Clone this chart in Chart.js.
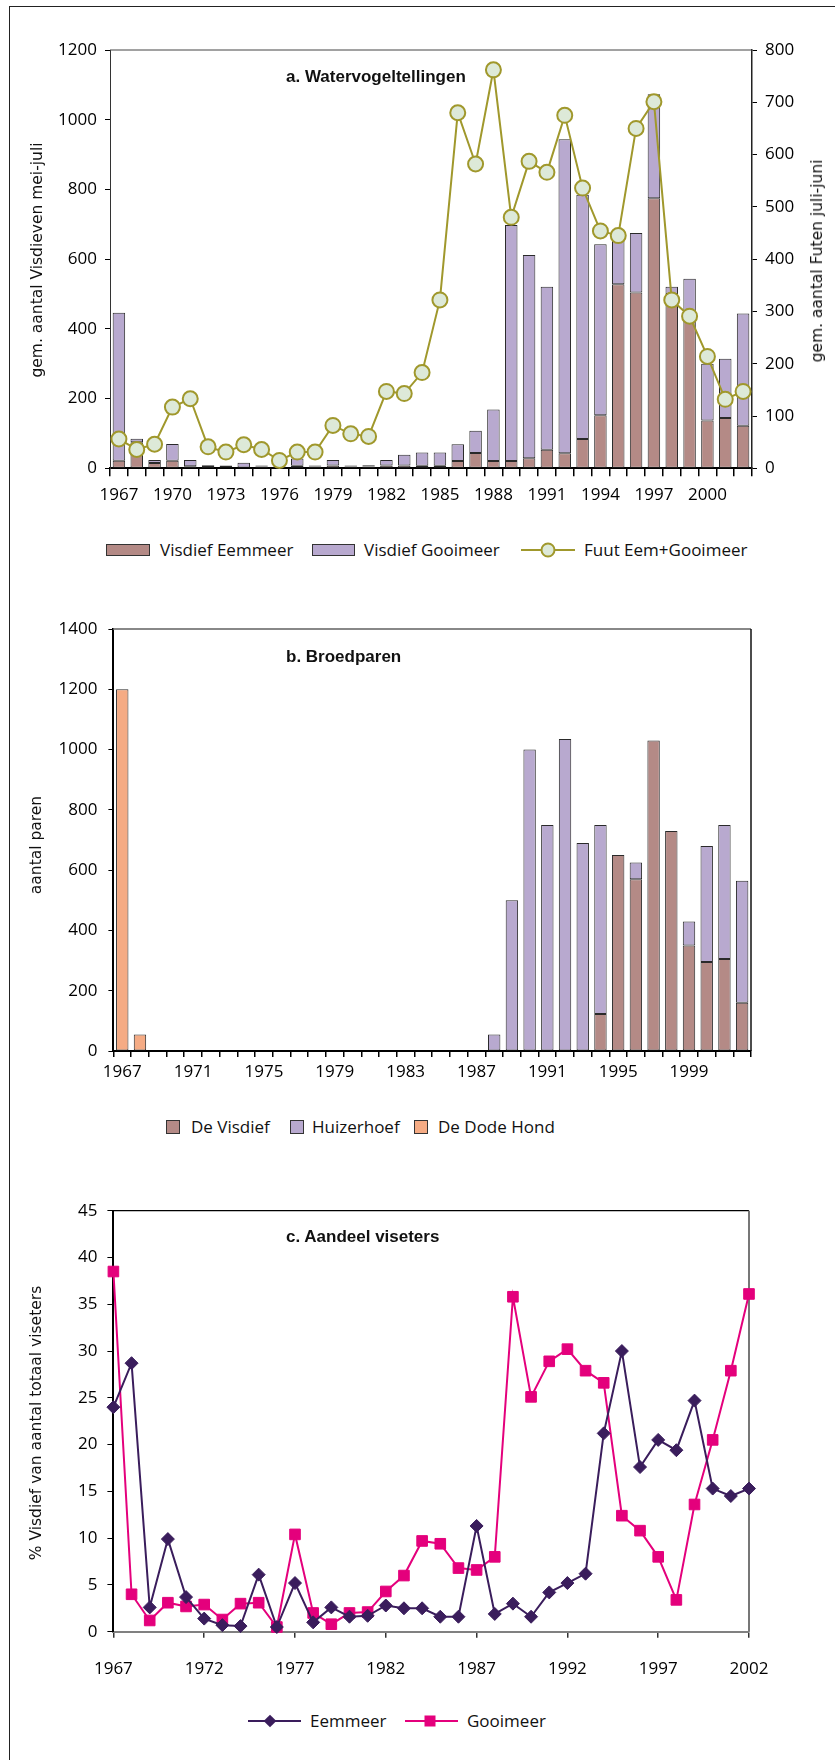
<!DOCTYPE html>
<html>
<head>
<meta charset="utf-8">
<script src="https://cdn.jsdelivr.net/npm/chart.js@4.4.1/dist/chart.umd.min.js"></script>
<style>
  html, body { margin: 0; padding: 0; background: #fff; }
  body { width: 835px; height: 1760px; position: relative; overflow: hidden; font-family: 'Open Sans', sans-serif; color: #111; }
  canvas { position: absolute; left: 0; }
  .frame { position: absolute; left: 9px; top: 6px; width: 830px; height: 1760px; border-left: 1.5px solid #222; border-top: 1.5px solid #222; }
  .t { position: absolute; white-space: nowrap; }
  .title { font-family: 'Liberation Sans', Arial, sans-serif; font-weight: bold; font-size: 17px; line-height: 20px; transform: translateY(-50%); }
  .ytitle { font-family: 'DejaVu Sans', sans-serif; font-size: 15.5px; line-height: 18px; transform: translate(-50%, -50%) rotate(-90deg); }
  .leg { font-size: 17px; line-height: 24px; transform: translateY(-50%); }
  .box { position: absolute; box-sizing: border-box; border: 1px solid #333; transform: translateY(-50%); }
  .ln { position: absolute; height: 2px; transform: translateY(-50%); }
  .mk { position: absolute; box-sizing: border-box; transform: translate(-50%, -50%); }
</style>
</head>
<body>
<div class="frame"></div>

<canvas id="chartA" width="835" height="520" style="top:0px"></canvas>
<canvas id="chartB" width="835" height="520" style="top:580px"></canvas>
<canvas id="chartC" width="835" height="540" style="top:1150px"></canvas>

<!-- panel a texts -->
<div class="t title" style="left:286px; top:77px;">a. Watervogeltellingen</div>
<div class="t ytitle" style="left:37px; top:260px;">gem. aantal Visdieven mei-juli</div>
<div class="t ytitle" style="left:817px; top:261px;">gem. aantal Futen juli-juni</div>
<div class="box" style="left:106px; top:550px; width:44px; height:12px; background:#b48a86;"></div>
<div class="t leg" style="left:160px; top:550px;">Visdief Eemmeer</div>
<div class="box" style="left:312px; top:550px; width:43px; height:12px; background:#b8a9cf;"></div>
<div class="t leg" style="left:364px; top:550px;">Visdief Gooimeer</div>
<div class="ln" style="left:521px; top:550px; width:54px; background:#a0982c;"></div>
<div class="mk" style="left:548px; top:550px; width:15px; height:15px; border-radius:50%; background:#dde9d8; border:2px solid #a0982c;"></div>
<div class="t leg" style="left:584px; top:550px;">Fuut Eem+Gooimeer</div>

<!-- panel b texts -->
<div class="t title" style="left:286px; top:657px;">b. Broedparen</div>
<div class="t ytitle" style="left:36px; top:845px;">aantal paren</div>
<div class="box" style="left:166px; top:1127px; width:14px; height:14px; background:#b48a86;"></div>
<div class="t leg" style="left:191px; top:1127px;">De Visdief</div>
<div class="box" style="left:290px; top:1127px; width:14px; height:14px; background:#b8a9cf;"></div>
<div class="t leg" style="left:312px; top:1127px;">Huizerhoef</div>
<div class="box" style="left:414px; top:1127px; width:14px; height:14px; background:#f5ab84;"></div>
<div class="t leg" style="left:438px; top:1127px;">De Dode Hond</div>

<!-- panel c texts -->
<div class="t title" style="left:286px; top:1237px;">c. Aandeel viseters</div>
<div class="t ytitle" style="left:36px; top:1423px;">% Visdief van aantal totaal viseters</div>
<div class="ln" style="left:248px; top:1721px; width:53px; background:#3a1d5c;"></div>
<div class="mk" style="left:270px; top:1721px; width:9px; height:9px; background:#3a1d5c; transform:translate(-50%,-50%) rotate(45deg);"></div>
<div class="t leg" style="left:310px; top:1721px;">Eemmeer</div>
<div class="ln" style="left:405px; top:1721px; width:53px; background:#e4007c;"></div>
<div class="mk" style="left:430px; top:1721px; width:11px; height:11px; background:#e4007c;"></div>
<div class="t leg" style="left:467px; top:1721px;">Gooimeer</div>

<script>
// Years 1967-2002
const years = [1967, 1968, 1969, 1970, 1971, 1972, 1973, 1974, 1975, 1976, 1977, 1978,
               1979, 1980, 1981, 1982, 1983, 1984, 1985, 1986, 1987, 1988, 1989, 1990,
               1991, 1992, 1993, 1994, 1995, 1996, 1997, 1998, 1999, 2000, 2001, 2002];

// a. Watervogeltellingen: mean counts of common terns (May-July) and grebes (July-June)
const visdiefEemmeer = [22, 75, 15, 22, 6, 4, 3, 2, 5, 4, 7, 5,
                        8, 5, 5, 8, 8, 7, 7, 21, 44, 21, 21, 29,
                        53, 43, 84, 152, 528, 504, 775, 500, 440, 137, 144, 122];
const visdiefGooimeer = [424, 10, 9, 48, 18, 5, 5, 14, 3, 1, 21, 3,
                         16, 3, 4, 16, 31, 38, 38, 48, 64, 148, 677, 583,
                         468, 901, 701, 491, 127, 171, 298, 21, 104, 163, 170, 322];
const fuutEemGooimeer = [56, 36, 46, 117, 133, 41, 31, 45, 36, 15, 31, 31,
                         82, 66, 61, 147, 143, 183, 322, 680, 582, 762, 480, 587,
                         566, 675, 536, 454, 445, 650, 701, 322, 291, 214, 132, 147];
const tickLabelsA = ['1967', '1970', '1973', '1976', '1979', '1982', '1985', '1988', '1991', '1994', '1997', '2000'];

// b. Broedparen: breeding pairs per colony
const deVisdief = [null, null, null, null, null, null, null, null, null, null, null, null,
                   null, null, null, null, null, null, null, null, null, null, null, null,
                   null, null, null, 123, 650, 570, 1030, 730, 350, 295, 305, 160];
const huizerhoef = [null, null, null, null, null, null, null, null, null, null, null, null,
                    null, null, null, null, null, null, null, null, null, 55, 500, 1000,
                    750, 1035, 690, 627, null, 55, null, null, 80, 385, 445, 405];
const deDodeHond = [1200, 55, null, null, null, null, null, null, null, null, null, null,
                    null, null, null, null, null, null, null, null, null, null, null, null,
                    null, null, null, null, null, null, null, null, null, null, null, null];
const tickLabelsB = ['1967', '1971', '1975', '1979', '1983', '1987', '1991', '1995', '1999'];

// c. Aandeel viseters: tern share of all fish-eating birds (%)
const aandeelEemmeer = [24.0, 28.7, 2.6, 9.9, 3.7, 1.4, 0.7, 0.6, 6.1, 0.5, 5.2, 1.0,
                        2.6, 1.6, 1.7, 2.8, 2.5, 2.5, 1.6, 1.6, 11.3, 1.9, 3.0, 1.6,
                        4.2, 5.2, 6.2, 21.2, 30.0, 17.6, 20.5, 19.4, 24.7, 15.3, 14.5, 15.3];
const aandeelGooimeer = [38.5, 4.0, 1.2, 3.1, 2.7, 2.9, 1.3, 3.0, 3.1, 0.5, 10.4, 2.0,
                         0.8, 2.0, 2.1, 4.3, 6.0, 9.7, 9.4, 6.8, 6.6, 8.0, 35.8, 25.1,
                         28.9, 30.2, 27.9, 26.6, 12.4, 10.8, 8.0, 3.4, 13.6, 20.5, 27.9, 36.1];
const tickLabelsC = [1967, 1972, 1977, 1982, 1987, 1992, 1997, 2002];

const BROWN = '#b48a86', PURPLE = '#b8a9cf', ORANGE = '#f5ab84';
const OLIVE = '#a0982c', GREY_GREEN = '#dde9d8';
const DARK = '#3a1d5c', MAGENTA = '#e4007c';
const tickFont = { family: "'Open Sans', sans-serif", size: 17 };
const plainNumber = v => String(v);

// Plot-area edge lines that are not axes (top / right frame)
const frameLines = {
  id: 'frameLines',
  beforeDatasetsDraw(chart, args, opts) {
    const { ctx, chartArea: a } = chart;
    ctx.save();
    (opts.lines || []).forEach(l => {
      ctx.beginPath();
      ctx.strokeStyle = l.color;
      ctx.lineWidth = l.width;
      if (l.side === 'top') { ctx.moveTo(a.left, a.top); ctx.lineTo(a.right, a.top); }
      if (l.side === 'right') { ctx.moveTo(a.right, a.top); ctx.lineTo(a.right, a.bottom); }
      ctx.stroke();
    });
    ctx.restore();
  }
};
Chart.register(frameLines);

const barStyle = { borderColor: '#2a2a2a', borderWidth: 1, borderSkipped: false,
                   categoryPercentage: 1, barPercentage: 0.7 };
const baseOpts = { responsive: false, animation: false, events: [], devicePixelRatio: 1 };

// ---- a. Watervogeltellingen
new Chart(document.getElementById('chartA'), {
  type: 'bar',
  data: {
    labels: years.map(String),
    datasets: [
      { type: 'line', label: 'Fuut Eem+Gooimeer', data: fuutEemGooimeer, yAxisID: 'y2',
        borderColor: OLIVE, borderWidth: 2, tension: 0, order: 0, clip: false,
        pointRadius: 7.5, pointBackgroundColor: GREY_GREEN, pointBorderColor: OLIVE, pointBorderWidth: 2 },
      Object.assign({ label: 'Visdief Eemmeer', data: visdiefEemmeer, backgroundColor: BROWN,
        stack: 'v', order: 1 }, barStyle),
      Object.assign({ label: 'Visdief Gooimeer', data: visdiefGooimeer, backgroundColor: PURPLE,
        stack: 'v', order: 1 }, barStyle)
    ]
  },
  options: Object.assign({}, baseOpts, {
    layout: { padding: { top: 50, left: 0, right: 0, bottom: 0 } },
    plugins: { legend: { display: false }, tooltip: { enabled: false },
      frameLines: { lines: [{ side: 'top', color: '#444', width: 1 }] } },
    scales: {
      x: { stacked: true, offset: true,
        grid: { offset: true, drawOnChartArea: false, tickLength: 8, color: '#000', lineWidth: 1.5 },
        border: { color: '#000', width: 2 },
        ticks: { autoSkip: false, maxRotation: 0, padding: 8.5, font: tickFont, color: '#000',
          callback(v) { const l = this.getLabelForValue(v); return tickLabelsA.includes(l) ? l : ''; } },
        afterFit(s) { s.height = 51.7; } },
      y: { stacked: true, position: 'left', min: 0, max: 1200,
        ticks: { stepSize: 200, padding: 8, font: tickFont, color: '#000', callback: plainNumber },
        grid: { drawOnChartArea: false, tickLength: 5, color: '#000' },
        border: { color: '#333', width: 1 },
        afterFit(s) { s.width = 110; } },
      y2: { position: 'right', min: 0, max: 800,
        ticks: { stepSize: 100, padding: 8, font: tickFont, color: '#000', callback: plainNumber },
        grid: { drawOnChartArea: false, tickLength: 5, color: '#000' },
        border: { color: '#222', width: 1.5 },
        afterFit(s) { s.width = 83; } }
    }
  })
});

// ---- b. Broedparen
new Chart(document.getElementById('chartB'), {
  type: 'bar',
  data: {
    labels: years.map(String),
    datasets: [
      Object.assign({ label: 'De Visdief', data: deVisdief, backgroundColor: BROWN, stack: 'p' }, barStyle),
      Object.assign({ label: 'Huizerhoef', data: huizerhoef, backgroundColor: PURPLE, stack: 'p' }, barStyle),
      Object.assign({ label: 'De Dode Hond', data: deDodeHond, backgroundColor: ORANGE, stack: 'p' }, barStyle)
    ]
  },
  options: Object.assign({}, baseOpts, {
    layout: { padding: { top: 49, left: 0, right: 84, bottom: 0 } },
    plugins: { legend: { display: false }, tooltip: { enabled: false },
      frameLines: { lines: [{ side: 'top', color: '#888', width: 2 }, { side: 'right', color: '#111', width: 1.5 }] } },
    scales: {
      x: { stacked: true, offset: true,
        grid: { offset: true, drawOnChartArea: false, tickLength: 6, color: '#000', lineWidth: 1.5 },
        border: { color: '#000', width: 2 },
        ticks: { autoSkip: false, maxRotation: 0, padding: 5, font: tickFont, color: '#000',
          callback(v) { const l = this.getLabelForValue(v); return tickLabelsB.includes(l) ? l : ''; } },
        afterFit(s) { s.height = 49; } },
      y: { stacked: true, min: 0, max: 1400,
        ticks: { stepSize: 200, padding: 11, font: tickFont, color: '#000', callback: plainNumber },
        grid: { drawOnChartArea: false, tickLength: 5, color: '#000' },
        border: { color: '#000', width: 2 },
        afterFit(s) { s.width = 113.4; } }
    }
  })
});

// ---- c. Aandeel viseters
const toPoints = vals => years.map((yr, i) => ({ x: yr, y: vals[i] }));
new Chart(document.getElementById('chartC'), {
  type: 'line',
  data: {
    datasets: [
      { label: 'Eemmeer', data: toPoints(aandeelEemmeer), borderColor: DARK, backgroundColor: DARK,
        borderWidth: 2, tension: 0, clip: false,
        pointStyle: 'rectRot', pointRadius: 6.5, pointBackgroundColor: DARK, pointBorderColor: DARK, pointBorderWidth: 1 },
      { label: 'Gooimeer', data: toPoints(aandeelGooimeer), borderColor: MAGENTA, backgroundColor: MAGENTA,
        borderWidth: 2, tension: 0, clip: false,
        pointStyle: 'rect', pointRadius: 7.5, pointBackgroundColor: MAGENTA, pointBorderColor: MAGENTA, pointBorderWidth: 1 }
    ]
  },
  options: Object.assign({}, baseOpts, {
    layout: { padding: { top: 60.7, left: 0, right: 86, bottom: 0 } },
    plugins: { legend: { display: false }, tooltip: { enabled: false },
      frameLines: { lines: [{ side: 'top', color: '#000', width: 1.2 }, { side: 'right', color: '#777', width: 2 }] } },
    scales: {
      x: { type: 'linear', min: 1967, max: 2002,
        afterBuildTicks(s) { s.ticks = tickLabelsC.map(v => ({ value: v })); },
        grid: { drawOnChartArea: false, tickLength: 6, color: '#333', lineWidth: 1.5 },
        border: { color: '#808080', width: 2 },
        ticks: { autoSkip: false, maxRotation: 0, padding: 21, font: tickFont, color: '#000',
          callback: plainNumber },
        afterFit(s) { s.height = 58.3; } },
      y: { min: 0, max: 45,
        ticks: { stepSize: 5, padding: 10, font: tickFont, color: '#000', callback: plainNumber },
        grid: { drawOnChartArea: false, tickLength: 6, color: '#000' },
        border: { color: '#000', width: 2 },
        afterFit(s) { s.width = 113.4; } }
    }
  })
});
</script>
</body>
</html>
